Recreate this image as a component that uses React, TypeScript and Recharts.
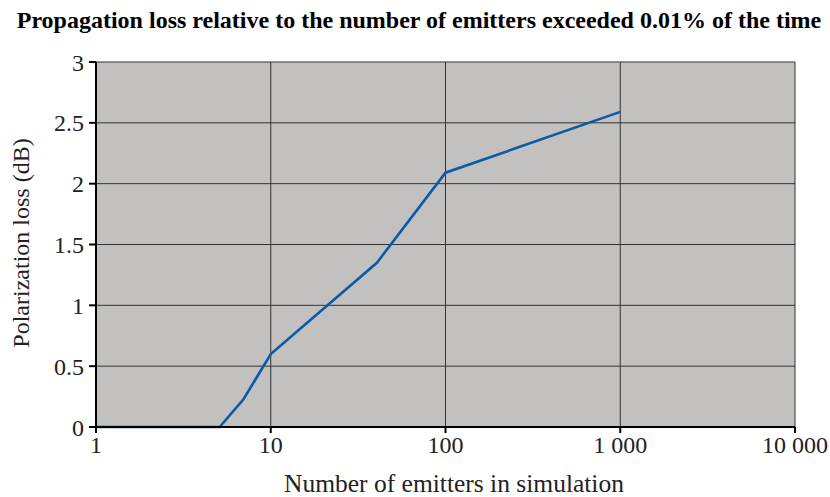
import React from "react";
import { LineChart, Line, XAxis, YAxis, CartesianGrid, Label } from "recharts";

const emitters = [1, 5.1, 7, 10, 40.5, 100, 1000];
const lossDb = [0, 0, 0.23, 0.6, 1.35, 2.09, 2.59];
const xTicks = [1, 10, 100, 1000, 10000];
const yTicks = [0, 0.5, 1, 1.5, 2, 2.5, 3];
const title = "Propagation loss relative to the number of emitters exceeded 0.01% of the time";
const xTitle = "Number of emitters in simulation";
const yTitle = "Polarization loss (dB)";

const data = emitters.map((x, i) => ({ x, y: lossDb[i] }));

const FONT = "Liberation Serif";

const fmtX = (v: number) => {
  const s = String(v);
  return s.length > 3 ? s.slice(0, s.length - 3) + " " + s.slice(-3) : s;
};

export default function App() {
  return (
    <div style={{ position: "absolute", left: 0, top: 0, width: 830, height: 497, background: "#fff" }}>
      <div
        style={{
          position: "absolute",
          left: 0,
          top: 6,
          width: 838,
          textAlign: "center",
          fontFamily: FONT,
          fontWeight: "bold",
          fontSize: 24,
          lineHeight: "28px",
          color: "#000",
          whiteSpace: "nowrap",
        }}
      >
        {title}
      </div>
      <LineChart width={830} height={497} data={data} margin={{ top: 62, right: 35, bottom: 0, left: 0 }}>
        <CartesianGrid stroke="#333" strokeWidth={1} fill="#c2c1c0" fillOpacity={1} />
        <XAxis
          dataKey="x"
          type="number"
          scale="log"
          domain={[1, 10000]}
          ticks={xTicks}
          allowDataOverflow
          tickFormatter={fmtX}
          height={70}
          axisLine={{ stroke: "#000", strokeWidth: 2 }}
          tickLine={{ stroke: "#000", strokeWidth: 2 }}
          tickSize={6}
          tickMargin={3}
          tick={{ fontFamily: FONT, fontSize: 24, fill: "#222" }}
        >
          <Label
            content={() => (
              <text x={454} y={492} textAnchor="middle" fontFamily={FONT} fontSize={25.5} fill="#222">
                {xTitle}
              </text>
            )}
          />
        </XAxis>
        <YAxis
          type="number"
          domain={[0, 3]}
          ticks={yTicks}
          width={96}
          axisLine={{ stroke: "#000", strokeWidth: 2 }}
          tickLine={{ stroke: "#000", strokeWidth: 2 }}
          tickSize={7}
          tickMargin={5}
          tick={{ fontFamily: FONT, fontSize: 24, fill: "#222" }}
        >
          <Label
            content={() => (
              <text
                x={29}
                y={243}
                transform="rotate(-90, 29, 243)"
                textAnchor="middle"
                fontFamily={FONT}
                fontSize={24}
                fill="#222"
              >
                {yTitle}
              </text>
            )}
          />
        </YAxis>
        <Line
          type="linear"
          dataKey="y"
          stroke="#0a5aa8"
          strokeWidth={2.6}
          dot={false}
          isAnimationActive={false}
        />
      </LineChart>
    </div>
  );
}
